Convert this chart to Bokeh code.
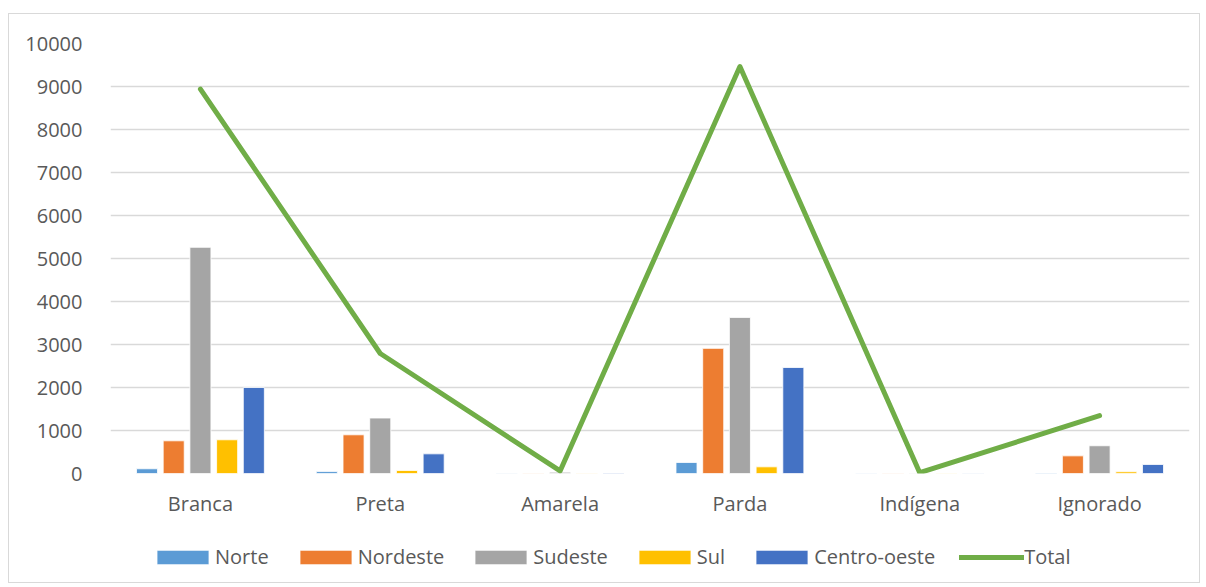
from bokeh.plotting import figure
from bokeh.models import ColumnDataSource, FactorRange, Range1d, Legend, LegendItem, FixedTicker
from bokeh.layouts import column
from bokeh.transform import dodge
from bokeh.embed import file_html
from bokeh.resources import INLINE

categories = ["Branca", "Preta", "Amarela", "Parda", "Indígena", "Ignorado"]
norte = [110, 45, 5, 256, 3, 10]
nordeste = [760, 900, 8, 2910, 5, 410]
sudeste = [5260, 1290, 30, 3630, 8, 645]
sul = [784, 70, 5, 155, 3, 40]
centro_oeste = [2000, 457, 10, 2465, 4, 210]
total = [8940, 2790, 60, 9465, 20, 1345]
y_ticks = [0, 1000, 2000, 3000, 4000, 5000, 6000, 7000, 8000, 9000, 10000]

series_names = ["Norte", "Nordeste", "Sudeste", "Sul", "Centro-oeste"]
series_keys = ["norte", "nordeste", "sudeste", "sul", "centro_oeste"]
colors = ["#5B9BD5", "#ED7D31", "#A5A5A5", "#FFC000", "#4472C4"]
offsets = [-0.297, -0.1485, 0.0, 0.1485, 0.297]
LINE_COLOR = "#70AD47"

source = ColumnDataSource(dict(cat=categories, norte=norte, nordeste=nordeste,
                               sudeste=sudeste, sul=sul, centro_oeste=centro_oeste,
                               total=total))

FONT = "Open Sans"
TXT = "#595959"

p = figure(x_range=FactorRange(*categories, range_padding=0), y_range=Range1d(0, 10000),
           width=1190, height=517, output_backend="svg", toolbar_location=None,
           min_border_left=101, min_border_right=10, min_border_top=29, min_border_bottom=58)
p.outline_line_color = None


def add_series(fig, visible=True):
    rs = []
    for key, col, off in zip(series_keys, colors, offsets):
        rs.append(fig.vbar(x=dodge("cat", off, range=p.x_range), top=key, width=0.117,
                           source=source, fill_color=col, line_color="white",
                           line_width=0.8, visible=visible))
    rs.append(fig.line(x="cat", y="total", source=source, line_color=LINE_COLOR,
                       line_width=5, line_join="round", line_cap="round", visible=visible))
    return rs


add_series(p)

p.yaxis.ticker = FixedTicker(ticks=y_ticks)
for ax in (p.xaxis[0], p.yaxis[0]):
    ax.axis_line_color = None
    ax.major_tick_line_color = None
    ax.minor_tick_line_color = None
    ax.major_label_text_font = FONT
    ax.major_label_text_font_size = "20px"
    ax.major_label_text_color = TXT
p.xaxis.major_label_standoff = 10
p.yaxis.major_label_standoff = 22

p.xgrid.grid_line_color = None
p.ygrid.grid_line_color = "#d9d9d9"
p.ygrid.grid_line_width = 1.5
p.ygrid.ticker = FixedTicker(ticks=y_ticks)

# legend strip (hidden copies of the series, only their legend swatches are shown)
lg = figure(width=1190, height=51, output_backend="svg", toolbar_location=None,
            x_range=p.x_range, y_range=p.y_range,
            x_axis_location=None, y_axis_location=None,
            min_border_left=0, min_border_right=0, min_border_top=0, min_border_bottom=0)
lg.grid.visible = False
lg.outline_line_color = None

hidden = add_series(lg, visible=False)
items = [LegendItem(label=name, renderers=[r])
         for name, r in zip(series_names + ["Total"], hidden)]

legend = Legend(items=items, orientation="horizontal", location=(40, 12),
                glyph_width=65, glyph_height=18, label_standoff=0, spacing=24,
                padding=0, margin=0, border_line_color=None, background_fill_alpha=0,
                inactive_fill_alpha=0,
                label_text_font=FONT, label_text_font_size="20px", label_text_color=TXT,
                label_height=24)
lg.add_layout(legend, "center")

layout = column(p, lg, spacing=0, margin=(13, 0, 0, 8),
                styles={"border": "1px solid #d9d9d9"})

open("out.html", "w").write(file_html(layout, INLINE))
